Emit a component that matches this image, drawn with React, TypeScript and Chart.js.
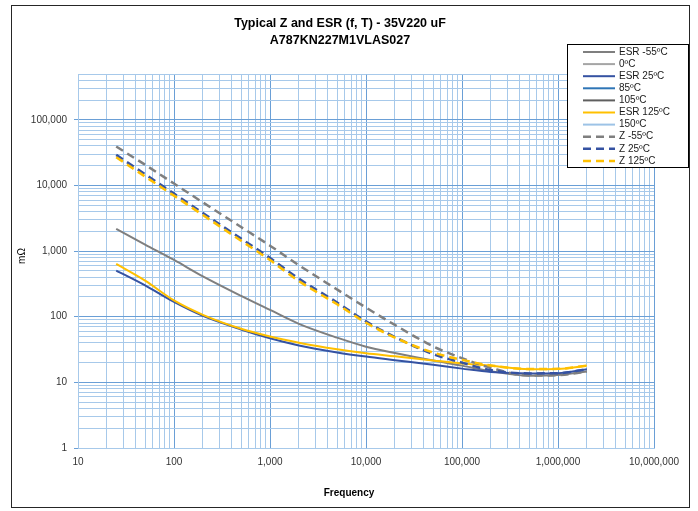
import React, { useEffect, useRef } from "react";
import { Chart, registerables } from "chart.js";

Chart.register(...registerables);

// ---- data ----
const FREQ = [25, 50, 100, 200, 500, 1000, 2000, 5000, 10000, 20000, 50000, 100000, 200000, 500000, 1000000, 2000000];
const ESR_M55 = [2180, 1260, 734, 413, 208, 127, 78, 48, 35, 28, 21.5, 18, 14.8, 12.6, 12.9, 14.6];
const ESR_25 = [505, 300, 168, 103, 64, 47, 36.5, 28.6, 24.7, 21.8, 18.5, 16.2, 14.4, 13.7, 13.8, 15.9];
const ESR_125 = [638, 355, 177, 107, 65.6, 50, 40.3, 32, 27.8, 25, 21.6, 19.4, 17.9, 15.9, 16, 18];
const Z_M55 = [39200, 20700, 10700, 5520, 2330, 1210, 610, 260, 138, 75, 35.5, 23.4, 16.6, 12.7, 12.9, 14.6];
const Z_25 = [29300, 14800, 7520, 3810, 1550, 787, 380, 165, 85, 49, 27, 20, 15.4, 13.7, 13.8, 15.9];
const Z_125 = [27000, 13700, 7000, 3550, 1440, 730, 350, 155, 81, 48, 28.5, 22, 18.1, 16, 16.1, 18];
const EMPTY: number[] = [];

const SERIES_LABELS = ["ESR -55ºC", "0ºC", "ESR 25ºC", "85ºC", "105ºC", "ESR 125ºC", "150ºC", "Z -55ºC", "Z 25ºC", "Z 125ºC"];
const TITLE_LINES = ["Typical Z and ESR (f, T) - 35V220 uF", "A787KN227M1VLAS027"];
const X_TITLE = "Frequency";
const Y_TITLE = "mΩ";
const X_MIN = 10;
const X_MAX = 10000000;
const Y_MIN = 1;
const Y_MAX = 500000;

const FONT = "'Liberation Sans', Arial, sans-serif";
const MAJOR = "#6a9fd6";
const MINOR = "#a7c9ea";
const GRAY = "#7f7f7f";
const BLUE = "#3552a2";
const GOLD = "#ffc000";
const DASH = [8, 5];

function logTicks(min: number, max: number): number[] {
  const out: number[] = [];
  for (let d = min; d < max; d *= 10) {
    for (let m = 1; m <= 9; m++) {
      const v = Math.round(d * m);
      if (v >= min && v <= max) out.push(v);
    }
  }
  if (!out.includes(max)) out.push(max);
  return out;
}

function isDecade(v: number | undefined): boolean {
  if (v === undefined || v <= 0) return false;
  const l = Math.log10(v);
  return Math.abs(l - Math.round(l)) < 1e-9;
}

const pts = (arr: number[]) => arr.map((y, i) => ({ x: FREQ[i], y }));

export default function App() {
  const ref = useRef<HTMLCanvasElement | null>(null);

  useEffect(() => {
    if (!ref.current) return;
    const styles = [
      { color: GRAY, dash: [] as number[], data: ESR_M55 },
      { color: "#a5a5a5", dash: [], data: EMPTY },
      { color: BLUE, dash: [], data: ESR_25 },
      { color: "#2e75b6", dash: [], data: EMPTY },
      { color: "#5f5f5f", dash: [], data: EMPTY },
      { color: GOLD, dash: [], data: ESR_125 },
      { color: "#9dc3e6", dash: [], data: EMPTY },
      { color: GRAY, dash: DASH, data: Z_M55 },
      { color: BLUE, dash: DASH, data: Z_25 },
      { color: GOLD, dash: DASH, data: Z_125 },
    ];

    const deco = {
      id: "deco",
      beforeDraw(chart: any) {
        const c = chart.ctx;
        c.save();
        c.fillStyle = "#ffffff";
        c.fillRect(0, 0, chart.width, chart.height);
        c.restore();
      },
      afterDraw(chart: any) {
        const c = chart.ctx;
        c.save();
        // outer border
        c.strokeStyle = "#262626";
        c.lineWidth = 1;
        c.strokeRect(11.5, 5.5, 678, 502);
        // title
        c.fillStyle = "#000";
        c.textAlign = "center";
        c.textBaseline = "middle";
        c.font = `bold 12.5px ${FONT}`;
        c.fillText(TITLE_LINES[0], 340, 24);
        c.fillText(TITLE_LINES[1], 340, 41);
        // x title
        c.font = `bold 10px ${FONT}`;
        c.fillText(X_TITLE, 349, 493);
        // y title
        c.save();
        c.translate(22, 256);
        c.rotate(-Math.PI / 2);
        c.font = `10px ${FONT}`;
        c.fillText(Y_TITLE, 0, 0);
        c.restore();
        // legend
        const lx = 567.5, ly = 44.5, lw = 121, lh = 123;
        c.fillStyle = "#fff";
        c.fillRect(lx, ly, lw, lh);
        c.strokeStyle = "#000";
        c.strokeRect(lx, ly, lw, lh);
        c.textAlign = "left";
        c.font = `10px ${FONT}`;
        chart.data.datasets.forEach((ds: any, i: number) => {
          const y = 52 + i * 12.1;
          c.save();
          c.strokeStyle = ds.borderColor;
          c.lineWidth = ds.borderDash && ds.borderDash.length ? 2.5 : 2;
          c.setLineDash(ds.borderDash || []);
          c.beginPath();
          c.moveTo(583, y);
          c.lineTo(615, y);
          c.stroke();
          c.restore();
          c.fillStyle = "#1a1a1a";
          c.fillText(ds.label, 619, y);
        });
        c.restore();
      },
    };

    const gridColor = (ctx: any) => (isDecade(ctx.tick?.value) ? MAJOR : MINOR);

    const chart = new Chart(ref.current, {
      type: "line",
      data: {
        datasets: styles.map((s, i) => ({
          label: SERIES_LABELS[i],
          data: pts(s.data),
          borderColor: s.color,
          backgroundColor: s.color,
          borderDash: s.dash,
          borderWidth: s.dash.length ? 2.5 : 2,
          pointRadius: 0,
          fill: false,
          cubicInterpolationMode: "monotone" as const,
          order: -i,
        })),
      },
      options: {
        responsive: false,
        animation: false,
        devicePixelRatio: 1,
        layout: { padding: { top: 74, right: 44, left: 0, bottom: 0 } },
        plugins: {
          legend: { display: false },
          title: { display: false },
          tooltip: { enabled: false },
        },
        scales: {
          x: {
            type: "logarithmic",
            min: X_MIN,
            max: X_MAX,
            afterBuildTicks: (scale: any) => {
              scale.ticks = logTicks(X_MIN, X_MAX).map((v) => ({ value: v, major: isDecade(v) }));
            },
            afterFit: (scale: any) => {
              scale.height = 63;
            },
            grid: { color: gridColor, lineWidth: 1, drawTicks: false },
            border: { color: MINOR },
            ticks: {
              autoSkip: false,
              maxRotation: 0,
              padding: 8,
              color: "#333",
              font: { family: FONT, size: 10 },
              callback: (v: any) => (isDecade(Number(v)) ? Number(v).toLocaleString("en-US") : ""),
            },
          },
          y: {
            type: "logarithmic",
            min: Y_MIN,
            max: Y_MAX,
            afterBuildTicks: (scale: any) => {
              scale.ticks = logTicks(Y_MIN, Y_MAX).map((v) => ({ value: v, major: isDecade(v) }));
            },
            afterFit: (scale: any) => {
              scale.width = 78;
            },
            grid: {
              color: gridColor,
              lineWidth: 1,
              drawTicks: true,
              tickLength: 4,
              tickColor: (ctx: any) => (isDecade(ctx.tick?.value) ? MAJOR : "rgba(0,0,0,0)"),
            },
            border: { color: MINOR },
            ticks: {
              autoSkip: false,
              padding: 7,
              color: "#333",
              font: { family: FONT, size: 10 },
              callback: (v: any) => (isDecade(Number(v)) ? Number(v).toLocaleString("en-US") : ""),
            },
          },
        },
      },
      plugins: [deco],
    } as any);

    return () => chart.destroy();
  }, []);

  return (
    <div style={{ position: "absolute", left: 0, top: 0, width: 698, height: 511 }}>
      <canvas ref={ref} width={698} height={511} style={{ width: 698, height: 511, display: "block" }} />
    </div>
  );
}
